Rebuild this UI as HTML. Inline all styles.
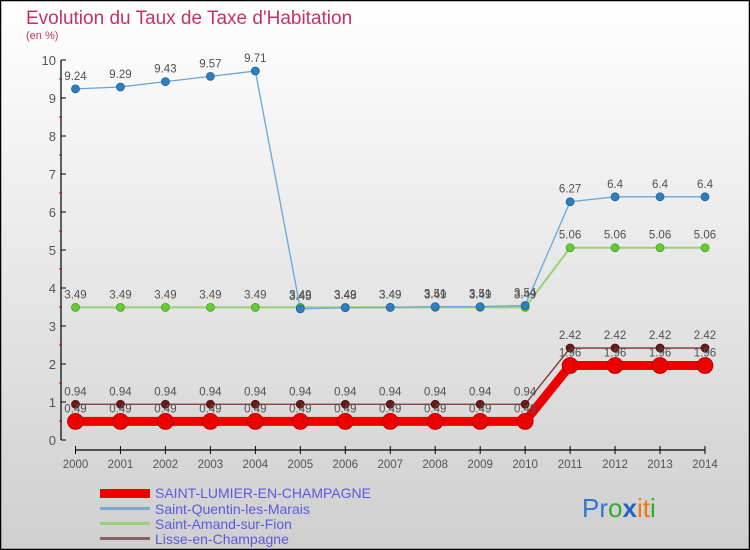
<!DOCTYPE html>
<html><head><meta charset="utf-8"><style>
body{margin:0;}
#c{width:750px;height:550px;position:relative;overflow:hidden;}
svg text{font-family:"Liberation Sans",sans-serif;}
</style></head><body>
<div id="c">
<svg id="s" width="750" height="550" xmlns="http://www.w3.org/2000/svg">
<defs><linearGradient id="bg" x1="0" y1="0" x2="0" y2="1"><stop offset="0" stop-color="#ffffff"/><stop offset="1" stop-color="#cfcfcf"/></linearGradient></defs>
<rect x="0.5" y="0.5" width="749" height="549" fill="url(#bg)" stroke="#000" stroke-width="1.5"/>
<text x="26" y="24" font-size="19" fill="#c8306a">Evolution du Taux de Taxe d'Habitation</text>
<text x="26" y="39" font-size="11" fill="#c8306a">(en %)</text>
<g id="axes"></g>
<g id="series"></g>
<g id="legend">
<rect x="100" y="489" width="50" height="9" fill="#e00"/>
<text x="155" y="498" font-size="14" fill="#5a5ae0">SAINT-LUMIER-EN-CHAMPAGNE</text>
<rect x="100" y="507" width="50" height="3" fill="#7aaacc"/>
<text x="155" y="514" font-size="14" fill="#5a5ae0">Saint-Quentin-les-Marais</text>
<rect x="100" y="522" width="50" height="3" fill="#99d07a"/>
<text x="155" y="529" font-size="14" fill="#5a5ae0">Saint-Amand-sur-Fion</text>
<rect x="100" y="537" width="50" height="3" fill="#8a6060"/>
<text x="155" y="544" font-size="14" fill="#5a5ae0">Lisse-en-Champagne</text>
</g>
<g font-size="26">
<text x="582" y="517"><tspan fill="#3377cc">Pr</tspan><tspan fill="#33aa33">o</tspan><tspan fill="#2266bb" font-weight="bold">x</tspan><tspan fill="#ee7711">it</tspan><tspan fill="#33aa33">i</tspan></text>
</g>
</svg></div>
<script>
const years=[2000,2001,2002,2003,2004,2005,2006,2007,2008,2009,2010,2011,2012,2013,2014];
const yTicks=[0,1,2,3,4,5,6,7,8,9,10];
const saintLumier=[0.49,0.49,0.49,0.49,0.49,0.49,0.49,0.49,0.49,0.49,0.49,1.96,1.96,1.96,1.96];
const saintQuentin=[9.24,9.29,9.43,9.57,9.71,3.45,3.48,3.49,3.51,3.51,3.54,6.27,6.4,6.4,6.4];
const saintAmand=[3.49,3.49,3.49,3.49,3.49,3.49,3.49,3.49,3.49,3.49,3.49,5.06,5.06,5.06,5.06];
const lisse=[0.94,0.94,0.94,0.94,0.94,0.94,0.94,0.94,0.94,0.94,0.94,2.42,2.42,2.42,2.42];
const NS="http://www.w3.org/2000/svg";
function xs(i){return 75.5+i*(705-75.5)/(years.length-1);}
function ys(v){return 440-38*v;}
function mk(t,a,p){const e=document.createElementNS(NS,t);for(const k in a)e.setAttribute(k,a[k]);p.appendChild(e);return e;}
const ax=document.getElementById('axes');
const yl=mk('line',{x1:61,y1:ys(10),x2:61,y2:ys(0),stroke:'#000','stroke-width':1.2},ax);


yTicks.forEach(v=>{
 mk('line',{x1:61,y1:ys(v),x2:66,y2:ys(v),stroke:'#000'},ax);
 if(v<10) mk('line',{x1:59,y1:ys(v+0.5),x2:62,y2:ys(v+0.5),stroke:'#d00'},ax);
 const t=mk('text',{x:56,y:ys(v)+5,'font-size':13,fill:'#555','text-anchor':'end'},ax);t.textContent=v;
 
 
});
const xl=mk('line',{x1:xs(0),y1:450,x2:xs(14),y2:450,stroke:'#000','stroke-width':1.2},ax);


years.forEach((y,i)=>{
 mk('line',{x1:xs(i),y1:446,x2:xs(i),y2:454,stroke:'#000'},ax);
 const t=mk('text',{x:xs(i),y:468,'font-size':11.5,fill:'#555','text-anchor':'middle'},ax);t.textContent=y;
 
 
});
const sg=document.getElementById('series');
function draw(data,name,color,lw,r,dot,st){
 const g=mk('g',{},sg);
 
 
 mk('polyline',{points:data.map((v,i)=>xs(i)+','+ys(v)).join(' '),fill:'none',stroke:color,'stroke-width':lw,'stroke-linejoin':'round'},g);
 data.forEach((v,i)=>{
  const c=mk('circle',{cx:xs(i),cy:ys(v),r:r,fill:dot,stroke:st,'stroke-width':0.8},g);
  
  
  const t=mk('text',{x:xs(i),y:ys(v)-9,'font-size':11.5,fill:'#505050','text-anchor':'middle'},g);t.textContent=v;
  
  
 });
}
draw(saintAmand,'series-saint-amand','#99d07a',2,4,'#66cc33','#4a9a2a');
draw(saintQuentin,'series-saint-quentin','#6aa6d6',1.3,4,'#2f7fc0','#225f90');
draw(lisse,'series-lisse','#7a3030',1.3,4,'#6a1a1a','#4a1010');
draw(saintLumier,'series-saint-lumier','#ee0000',9,8,'#ee0000','#b00000');
</script>
</body></html>
